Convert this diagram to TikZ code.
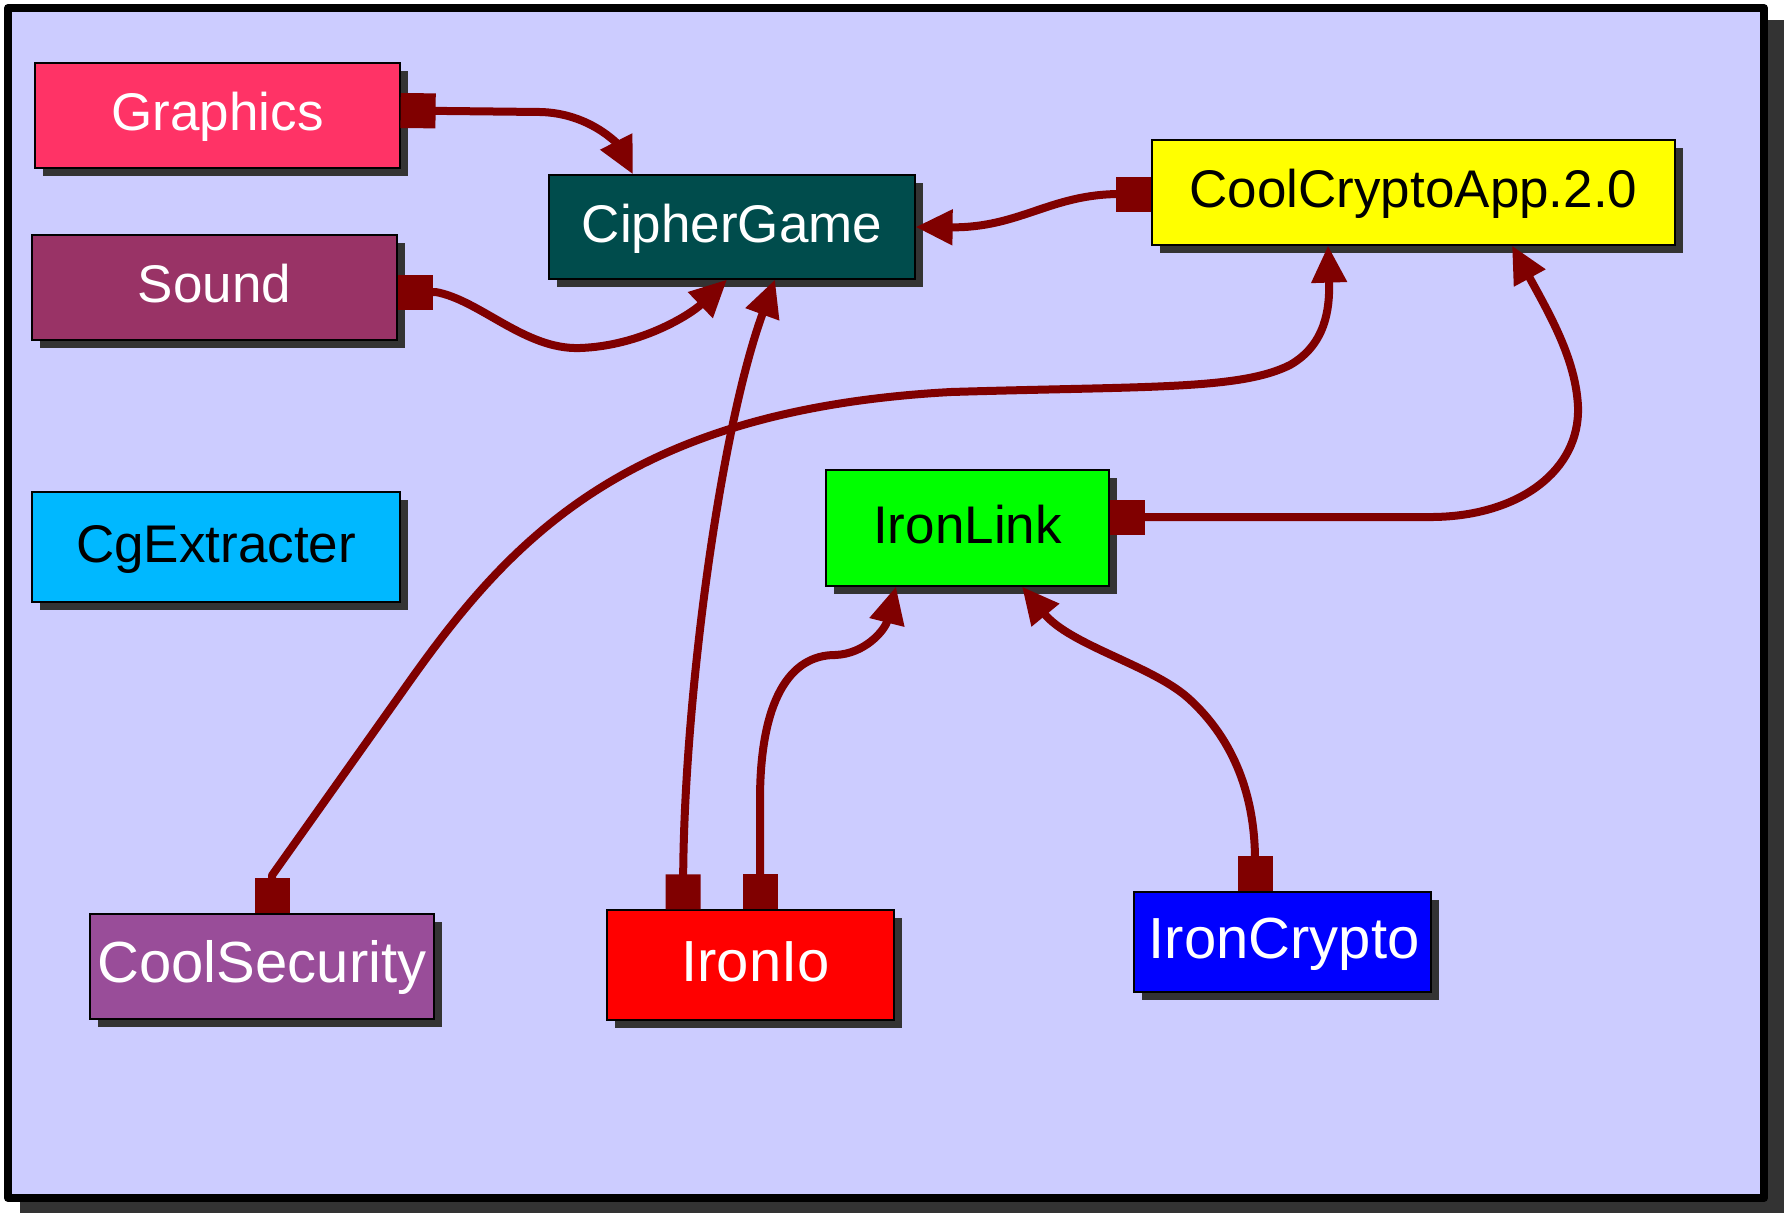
\documentclass[tikz,border=0pt]{standalone}
\usepackage{fontspec}
\setmainfont{Liberation Sans}
\usetikzlibrary{arrows.meta,shadows}

\definecolor{lavender}{HTML}{CCCCFF}
\definecolor{shadowgray}{HTML}{333333}
\definecolor{linkred}{HTML}{800000}
\definecolor{cGraphics}{HTML}{FF3366}
\definecolor{cSound}{HTML}{993366}
\definecolor{cCipher}{HTML}{004C4C}
\definecolor{cCrypto}{HTML}{FFFF00}
\definecolor{cExtract}{HTML}{00B8FF}
\definecolor{cLink}{HTML}{00FF00}
\definecolor{cSecurity}{HTML}{994D99}
\definecolor{cIo}{HTML}{FF0000}
\definecolor{cIronCrypto}{HTML}{0000FF}

\tikzset{
  sqtail/.tip={Square[length=35pt,width=35pt]},
  trihead/.tip={Triangle[length=37pt,width=34pt]},
  box/.style={draw=black, line width=1.2pt, inner sep=0pt,
    font=\fontsize{53pt}{60pt}\selectfont, text height=38pt, text depth=8pt,
    drop shadow={shadow xshift=8pt, shadow yshift=-8pt, fill=shadowgray, opacity=1}},
  bigtext/.style={font=\fontsize{58pt}{66pt}\selectfont, text height=41.5pt, text depth=9pt},
  link/.style={draw=linkred, line width=8pt, line join=round, arrows={sqtail-trihead}},
}

\begin{document}
\begin{tikzpicture}[x=1pt, y=-1pt]
  \useasboundingbox (0,0) rectangle (1787,1213);

  % canvas frame with its shadow
  \fill[shadowgray] (20,20) rectangle (1784,1213);
  \draw[line width=8pt, line join=round, fill=lavender] (8,8) rectangle (1764,1198);

  % modules
  \node[box, fill=cGraphics, text=white, minimum width=365pt, minimum height=105pt]
    (Graphics) at (217.5,115.5) {Graphics};
  \node[box, fill=cSound, text=white, minimum width=365pt, minimum height=105pt]
    (Sound) at (214.5,287.5) {Sound};
  \node[box, fill=cCipher, text=white, minimum width=366pt, minimum height=104pt]
    (CipherGame) at (732,227) {CipherGame};
  \node[box, fill=cCrypto, text=black, minimum width=523pt, minimum height=105pt]
    (CoolCryptoApp) at (1413.5,192.5) {CoolCryptoApp.2.0};
  \node[box, fill=cExtract, text=black, minimum width=368pt, minimum height=110pt]
    (CgExtracter) at (216,547) {CgExtracter};
  \node[box, fill=cLink, text=black, minimum width=283pt, minimum height=116pt]
    (IronLink) at (967.5,528) {IronLink};
  \node[box, bigtext, fill=cSecurity, text=white, minimum width=344pt, minimum height=105pt]
    (CoolSecurity) at (262,966.5) {CoolSecurity};
  \node[box, bigtext, fill=cIo, text=white, minimum width=287pt, minimum height=110pt]
    (IronIo) at (750.5,965) {\hspace*{10pt}IronIo};
  \node[box, bigtext, fill=cIronCrypto, text=white, minimum width=297pt, minimum height=100pt]
    (IronCrypto) at (1282.5,942) {\hspace*{3pt}IronCrypto};

  % dependencies
  \draw[link] ([yshift=5pt]Graphics.east) -- (540,112)
    .. controls (590,113) and (618,145) .. ([xshift=-99pt]CipherGame.north);
  \draw[link] ([yshift=-4.5pt]Sound.east) -- ++(38,0)
    .. controls (480,300) and (525,350) .. (580,348)
    .. controls (640,346) and (690,315) .. ([xshift=-5pt]CipherGame.south);
  \draw[link] ([yshift=-1.5pt]CoolCryptoApp.west)
    .. controls (1050,194) and (1020,228) .. (CipherGame.east);
  \draw[link] ([xshift=-67.5pt]IronIo.north)
    .. controls (684,700) and (720,430) .. ([xshift=43pt]CipherGame.south);
  \draw[link] ([xshift=9.5pt]IronIo.north) -- (760,800)
    .. controls (760,700) and (790,655) .. (835,655)
    .. controls (865,654) and (885,630) .. ([xshift=-71.5pt]IronLink.south);
  \draw[link] ([xshift=10pt]CoolSecurity.north) -- ++(0,-38) -- (400,695)
    .. controls (505,545) and (620,410) .. (951,392)
    .. controls (1150,386) and (1240,390) .. (1290,365)
    .. controls (1325,345) and (1330,310) .. ([xshift=-85.5pt]CoolCryptoApp.south);
  \draw[link] ([yshift=11pt]IronLink.east) -- (1433,517)
    .. controls (1520,516) and (1580,470) .. (1578,407)
    .. controls (1576,360) and (1550,315) .. ([xshift=98.5pt]CoolCryptoApp.south);
  \draw[link] ([xshift=-27.5pt]IronCrypto.north)
    .. controls (1255,790) and (1230,735) .. (1187,697)
    .. controls (1150,665) and (1070,645) .. ([xshift=54.5pt]IronLink.south);
\end{tikzpicture}
\end{document}
